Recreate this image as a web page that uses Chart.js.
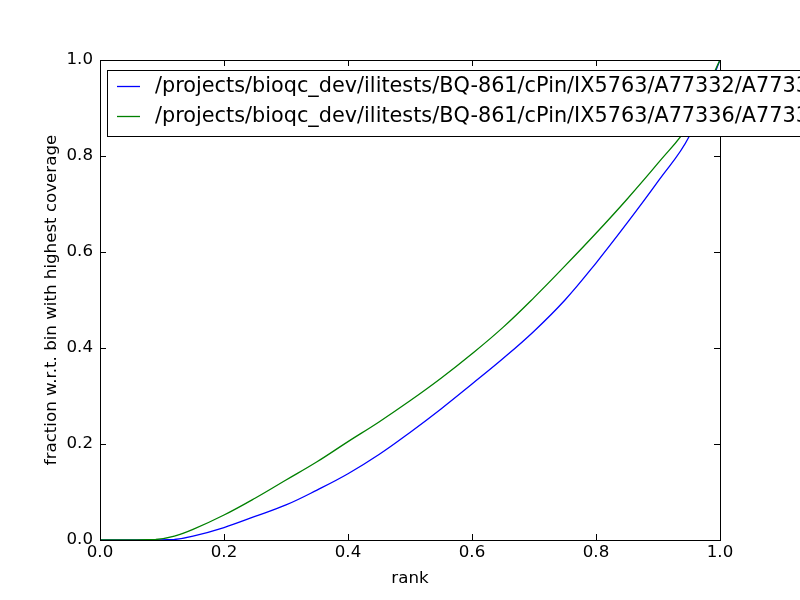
<!DOCTYPE html>
<html>
<head>
<meta charset="utf-8">
<script src="https://cdn.jsdelivr.net/npm/chart.js@4"></script>
<style>
  body { margin: 0; background: #fff; }
  #wrap { width: 800px; height: 600px; }
</style>
</head>
<body>
<div id="wrap"><canvas id="myChart" width="800" height="600"></canvas></div>
<script>
// data
var rank = [0, 0.05, 0.09, 0.12, 0.15, 0.2, 0.25, 0.3, 0.35, 0.4, 0.45, 0.5,
            0.55, 0.6, 0.65, 0.7, 0.75, 0.8, 0.85, 0.9, 0.95, 1.0];
var fracA77332 = [0, 0, 0, 0.001, 0.008, 0.026, 0.049, 0.073, 0.104, 0.138, 0.178, 0.224,
                  0.273, 0.325, 0.378, 0.435, 0.5, 0.577, 0.66, 0.747, 0.84, 1.0];
var fracA77336 = [0, 0, 0.001, 0.008, 0.022, 0.052, 0.087, 0.125, 0.163, 0.205, 0.246, 0.29,
                  0.337, 0.388, 0.443, 0.505, 0.571, 0.639, 0.71, 0.785, 0.866, 1.0];
var seriesLabels = [
  "/projects/bioqc_dev/ilitests/BQ-861/cPin/IX5763/A77332/A7733",
  "/projects/bioqc_dev/ilitests/BQ-861/cPin/IX5763/A77336/A7733"
];
var seriesColors = ["#0000ff", "#008000"];
var tickValues = [0, 0.2, 0.4, 0.6, 0.8, 1.0];

var FONT = "'DejaVu Sans', sans-serif";

function toPoints(xs, ys) {
  return xs.map(function(x, i) { return {x: x, y: ys[i]}; });
}

// frame, inward ticks on all four sides, and the legend box
var mplDecor = {
  id: 'mplDecor',
  afterDraw: function(chart) {
    var ctx = chart.ctx;
    var a = chart.chartArea;
    var xs = chart.scales.x, ys = chart.scales.y;
    ctx.save();
    ctx.strokeStyle = '#000';
    ctx.lineWidth = 1;
    ctx.beginPath();
    tickValues.forEach(function(v) {
      var px = Math.round(xs.getPixelForValue(v)) + 0.5;
      ctx.moveTo(px, a.bottom); ctx.lineTo(px, a.bottom - 6);
      ctx.moveTo(px, a.top); ctx.lineTo(px, a.top + 6);
      var py = Math.round(ys.getPixelForValue(v)) + 0.5;
      ctx.moveTo(a.left, py); ctx.lineTo(a.left + 6, py);
      ctx.moveTo(a.right, py); ctx.lineTo(a.right - 6, py);
    });
    ctx.stroke();
    ctx.strokeRect(Math.round(a.left) + 0.5, Math.round(a.top) + 0.5,
                   Math.round(a.right - a.left), Math.round(a.bottom - a.top));

    // legend
    var lx = 107.5, ly = 70.5, lw = 760, lh = 66;
    ctx.fillStyle = '#fff';
    ctx.fillRect(lx, ly, lw, lh);
    ctx.strokeRect(lx, ly, lw, lh);
    ctx.font = '20.8px ' + FONT;
    ctx.textBaseline = 'middle';
    chart.data.datasets.forEach(function(ds, i) {
      var yy = 86 + i * 30;
      ctx.strokeStyle = ds.borderColor;
      ctx.lineWidth = 1.3;
      ctx.beginPath();
      ctx.moveTo(117, yy + 0.5); ctx.lineTo(140, yy + 0.5);
      ctx.stroke();
      ctx.fillStyle = '#000';
      ctx.fillText(ds.label, 155, yy + 1);
    });
    ctx.restore();
  }
};

var ctx = "myChart";
var myChart = new Chart(ctx, {
  type: 'line',
  data: {
    datasets: [{
      label: seriesLabels[0],
      data: toPoints(rank, fracA77332),
      borderColor: seriesColors[0],
      borderWidth: 1.3,
      pointRadius: 0,
      tension: 0.4,
      order: 1,
      fill: false
    }, {
      label: seriesLabels[1],
      data: toPoints(rank, fracA77336),
      borderColor: seriesColors[1],
      borderWidth: 1.3,
      pointRadius: 0,
      tension: 0.4,
      order: 0,
      fill: false
    }]
  },
  options: {
    responsive: false,
    animation: false,
    layout: { padding: { top: 60, right: 80, left: 0, bottom: 0 } },
    plugins: {
      legend: { display: false },
      tooltip: { enabled: false }
    },
    scales: {
      x: {
        type: 'linear',
        min: 0, max: 1,
        grid: { display: false, drawTicks: false },
        border: { display: false },
        afterBuildTicks: function(scale) {
          scale.ticks = tickValues.map(function(v) { return {value: v}; });
        },
        afterFit: function(scale) { scale.height = 60; },
        ticks: {
          padding: 3,
          color: '#000',
          font: { family: FONT, size: 16.67 },
          callback: function(v) { return v.toFixed(1); }
        },
        title: {
          display: true,
          text: 'rank',
          color: '#000',
          padding: { top: 0, bottom: 11 },
          font: { family: FONT, size: 16.67 }
        }
      },
      y: {
        type: 'linear',
        min: 0, max: 1,
        grid: { display: false, drawTicks: false },
        border: { display: false },
        afterBuildTicks: function(scale) {
          scale.ticks = tickValues.map(function(v) { return {value: v}; });
        },
        afterFit: function(scale) { scale.width = 100; },
        ticks: {
          padding: 7,
          color: '#000',
          font: { family: FONT, size: 16.67 },
          callback: function(v) { return v.toFixed(1); }
        },
        title: {
          display: true,
          text: 'fraction w.r.t. bin with highest coverage',
          color: '#000',
          padding: { top: 42, bottom: 0 },
          font: { family: FONT, size: 16.67 }
        }
      }
    }
  },
  plugins: [mplDecor]
});
</script>
</body>
</html>
